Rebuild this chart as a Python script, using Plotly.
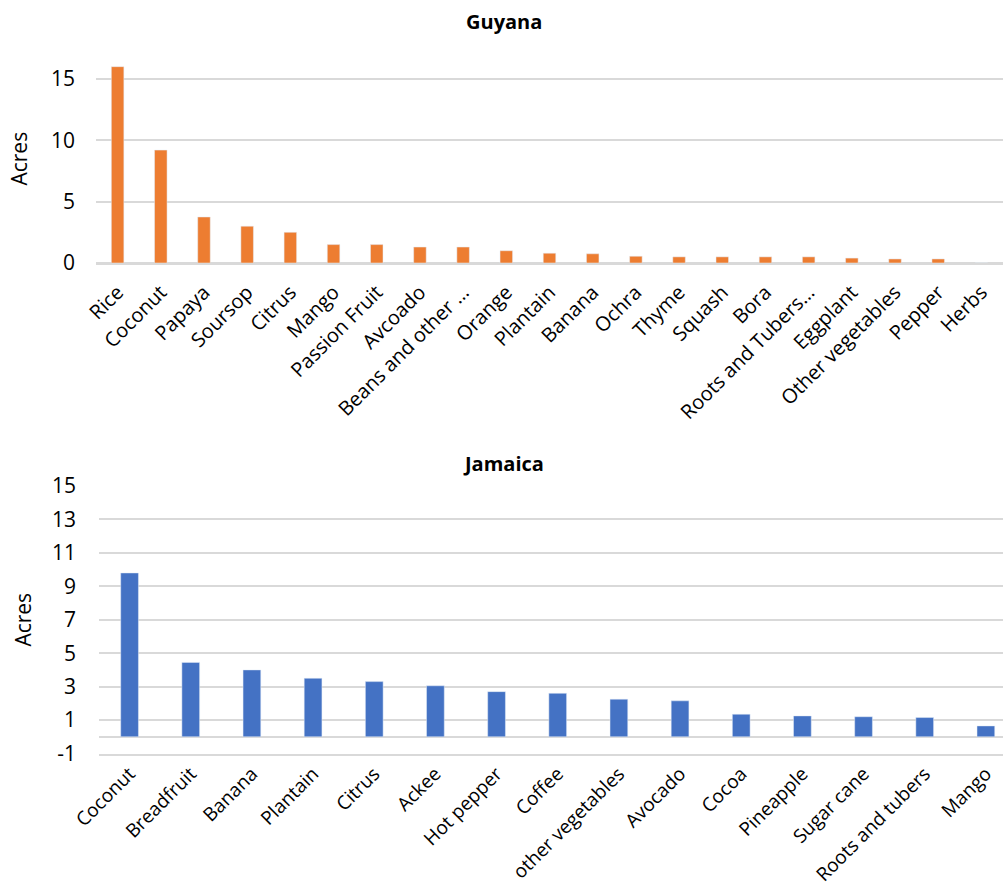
import plotly.graph_objects as go

guyana_crops = ["Rice", "Coconut", "Papaya", "Soursop", "Citrus", "Mango", "Passion Fruit",
                "Avcoado", "Beans and other …", "Orange", "Plantain", "Banana", "Ochra",
                "Thyme", "Squash", "Bora", "Roots and Tubers…", "Eggplant",
                "Other vegetables", "Pepper", "Herbs"]
guyana_acres = [16.0, 9.2, 3.75, 3.0, 2.5, 1.5, 1.5, 1.3, 1.3, 1.0, 0.8, 0.75, 0.55,
                0.5, 0.5, 0.5, 0.5, 0.4, 0.33, 0.33, 0.0]

jamaica_crops = ["Coconut", "Breadfruit", "Banana", "Plantain", "Citrus", "Ackee",
                 "Hot pepper", "Coffee", "other vegetables", "Avocado", "Cocoa",
                 "Pineapple", "Sugar cane", "Roots and tubers", "Mango"]
jamaica_acres = [9.8, 4.45, 4.0, 3.5, 3.3, 3.05, 2.7, 2.6, 2.25, 2.15, 1.35, 1.25,
                 1.2, 1.15, 0.65]

guyana_ticks = [0, 5, 10, 15]
jamaica_ticks = [-1, 1, 3, 5, 7, 9, 11, 13, 15]
jamaica_tick_labels = ["-1", "1", "3", "5", "7", "9", "11", "13", "15"]

W, H = 1003, 886
FONT = "Open Sans"
GRID = "#D9D9D9"

fig = go.Figure()
fig.add_trace(go.Bar(x=guyana_crops, y=guyana_acres, marker_color="#ED7D31",
                     xaxis="x", yaxis="y", showlegend=False))
fig.add_trace(go.Bar(x=jamaica_crops, y=jamaica_acres, marker_color="#4472C4",
                     xaxis="x2", yaxis="y2", showlegend=False))


def ydom(top_px, bottom_px):
    return [1 - bottom_px / H, 1 - top_px / H]


fig.update_layout(
    width=W, height=H, autosize=False,
    margin=dict(l=0, r=0, t=0, b=0, pad=0),
    paper_bgcolor="white", plot_bgcolor="white",
    bargap=0.71,
    font=dict(family=FONT, color="#000000"),
    xaxis=dict(domain=[96 / W, 1], anchor="y", tickangle=-45,
               tickfont=dict(family=FONT, size=20), automargin=False,
               showgrid=False, showline=True, linecolor=GRID, linewidth=1.5,
               ticks="", range=[-0.5, 20.5], ticklabelstandoff=8),
    yaxis=dict(domain=ydom(54.4, 263), anchor="x", range=[0, 17], tickvals=guyana_ticks,
               automargin=False,
               showgrid=True, gridcolor=GRID, gridwidth=1.5, zeroline=True,
               zerolinecolor=GRID, zerolinewidth=1.5, tickfont=dict(family=FONT, size=21),
               ticklabelstandoff=20,
               title=dict(text="Acres", font=dict(family=FONT, size=21), standoff=17)),
    xaxis2=dict(domain=[99 / W, 1], anchor="y2", tickangle=-45,
                tickfont=dict(family=FONT, size=19), automargin=False,
                showgrid=False, showline=True, linecolor=GRID, linewidth=1.5,
                ticks="", range=[-0.5, 14.28], ticklabelstandoff=0),
    yaxis2=dict(domain=ydom(486, 753.5), anchor="x2", range=[-1, 15],
                tickvals=jamaica_ticks, ticktext=jamaica_tick_labels, automargin=False,
                showgrid=True, gridcolor=GRID, gridwidth=1.5, zeroline=True,
                zerolinecolor=GRID, zerolinewidth=1.5, tickfont=dict(family=FONT, size=21),
                ticklabelstandoff=22,
                title=dict(text="Acres", font=dict(family=FONT, size=21), standoff=14)),
    annotations=[
        dict(text="<b>Guyana</b>", x=0.502, y=1 - 22 / H, xref="paper", yref="paper",
             showarrow=False, font=dict(family=FONT, size=20), xanchor="center",
             yanchor="middle"),
        dict(text="<b>Jamaica</b>", x=0.502, y=1 - 463 / H, xref="paper", yref="paper",
             showarrow=False, font=dict(family=FONT, size=20), xanchor="center",
             yanchor="middle"),
    ],
)

fig.write_html("out.html", config={"displayModeBar": False},
               post_script="document.body.style.margin='0';document.body.style.overflow='hidden';")
